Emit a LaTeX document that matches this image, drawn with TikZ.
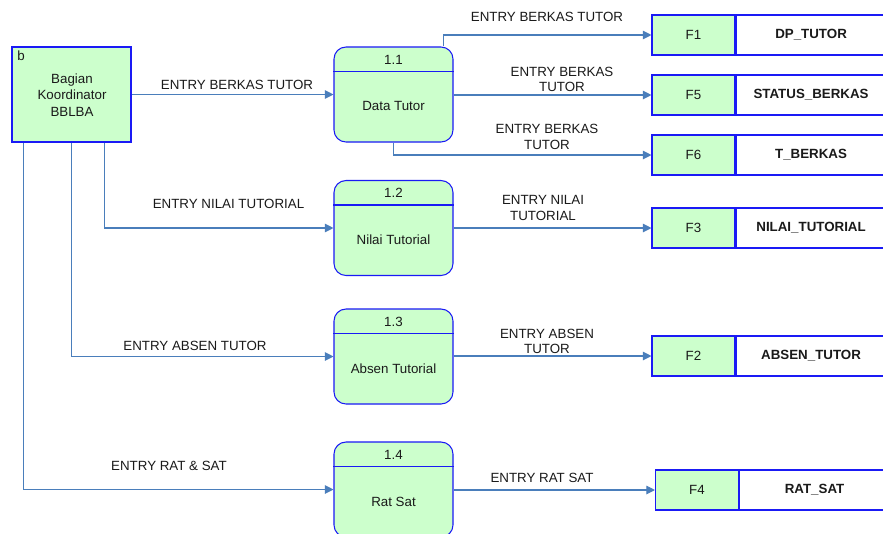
\documentclass[tikz,border=0pt]{standalone}
\usepackage{fontspec}
\setmainfont{Liberation Sans}
\usetikzlibrary{arrows.meta,calc}

\definecolor{edgeblue}{HTML}{1A1AF5}
\definecolor{flowblue}{HTML}{4A7EBB}
\definecolor{boxgreen}{HTML}{CCFFCC}
\definecolor{ink}{HTML}{1A1A1A}

\begin{document}
\begin{tikzpicture}[x=0.75pt,y=-0.75pt,
  font=\fontsize{10}{11.6}\selectfont, text=ink,
  entitybox/.style={draw=edgeblue, line width=0.8pt, fill=boxgreen,
    minimum width=89.25pt, minimum height=71.25pt, inner sep=0pt},
  procbox/.style={draw=edgeblue, line width=0.8pt, fill=boxgreen,
    rounded corners=9pt, minimum width=89.25pt, minimum height=71.25pt, inner sep=0pt},
  storeid/.style={draw=edgeblue, line width=0.8pt, fill=boxgreen,
    minimum width=62.25pt, minimum height=30pt, inner sep=0pt},
  storename/.style={draw=edgeblue, line width=0.8pt, fill=white,
    minimum width=112.5pt, minimum height=30pt, inner sep=0pt, anchor=west,
    font=\fontsize{10}{12}\selectfont\bfseries},
  flow/.style={draw=flowblue, line width=0.8pt, -{Triangle[length=6.5pt,width=6.5pt]}},
  flowlabel/.style={align=center, inner sep=0pt},
  plain/.style={inner sep=0pt, align=center}]

\clip (0,0) rectangle (883,533);
\fill[white] (0,0) rectangle (883,533);

% process with number strip
\newcommand\procnode[5]{%
  \node[procbox] (#1) at (#2,#3) {};
  \draw[draw=edgeblue, line width=0.8pt] ($(#1.north west)+(0,25)$) -- ($(#1.north east)+(0,25)$);
  \node[plain] (#1num) at ($(#1.north)+(0,13)$) {#4};
  \node[plain] (#1txt) at ($(#1.north)+(0,60)$) {#5};
}
% data store: id cell and name cell
\newcommand\storenode[5]{%
  \node[storeid] (#1) at (#2,#3) {#4};
  \node[storename] (#1name) at (#1.east) {#5};
}

% external entity
\node[entitybox] (ent) at (71.5,94.5) {};
\node[plain, anchor=north west] (entid) at (17,51) {b};
\node[plain, font=\fontsize{10}{12.2}\selectfont] (enttxt) at (72,95) {Bagian\\Koordinator\\BBLBA};

% processes
\procnode{p11}{393.5}{94.5}{1.1}{Data Tutor}
\procnode{p12}{393.5}{228}{1.2}{Nilai Tutorial}
\procnode{p13}{393.5}{356.5}{1.3}{Absen Tutorial}
\procnode{p14}{393.5}{489.5}{1.4}{Rat Sat}

% data stores
\storenode{f1}{693.5}{35}{F1}{DP\_TUTOR}
\storenode{f5}{693.5}{95}{F5}{STATUS\_BERKAS}
\storenode{f6}{693.5}{155}{F6}{T\_BERKAS}
\storenode{f3}{693.5}{228}{F3}{NILAI\_TUTORIAL}
\storenode{f2}{693.5}{356}{F2}{ABSEN\_TUTOR}
\storenode{f4}{697}{490}{F4}{RAT\_SAT}

% taps on the entity
\coordinate (tap12) at ($(ent.south west)+(93,0)$);
\coordinate (tap13) at ($(ent.south west)+(60,0)$);
\coordinate (tap14) at ($(ent.south west)+(12,0)$);
\coordinate (tapf1) at ($(p11.north east)+(-10,0)$);

% flows
\draw[flow] (ent.east) -- (p11.west);
\draw[flow] (tap12) |- (p12.west);
\draw[flow] (tap13) |- (p13.west);
\draw[flow] (tap14) |- (p14.west);

\draw[flow] (tapf1) |- (f1.west);
\draw[flow] (f5.west -| p11.east) -- (f5.west);
\draw[flow] (p11.south) |- (f6.west);
\draw[flow] (p12.east) -- (f3.west);
\draw[flow] (f2.west -| p13.east) -- (f2.west);
\draw[flow] (f4.west -| p14.east) -- (f4.west);

% flow labels
\node[flowlabel] (l0) at (237,85) {ENTRY BERKAS TUTOR};
\node[flowlabel] (l1) at (547,17) {ENTRY BERKAS TUTOR};
\node[flowlabel] (l5) at (562,79.5) {ENTRY BERKAS\\TUTOR};
\node[flowlabel] (l6) at (547,137) {ENTRY BERKAS\\TUTOR};
\node[flowlabel] (l12) at (228.5,204) {ENTRY NILAI TUTORIAL};
\node[flowlabel] (l3) at (543,208) {ENTRY NILAI\\TUTORIAL};
\node[flowlabel] (l13) at (195,346) {ENTRY ABSEN TUTOR};
\node[flowlabel] (l2) at (547,341.5) {ENTRY ABSEN\\TUTOR};
\node[flowlabel] (l14) at (169,465.5) {ENTRY RAT \& SAT};
\node[flowlabel] (l4) at (542,478) {ENTRY RAT SAT};

\end{tikzpicture}
\end{document}
